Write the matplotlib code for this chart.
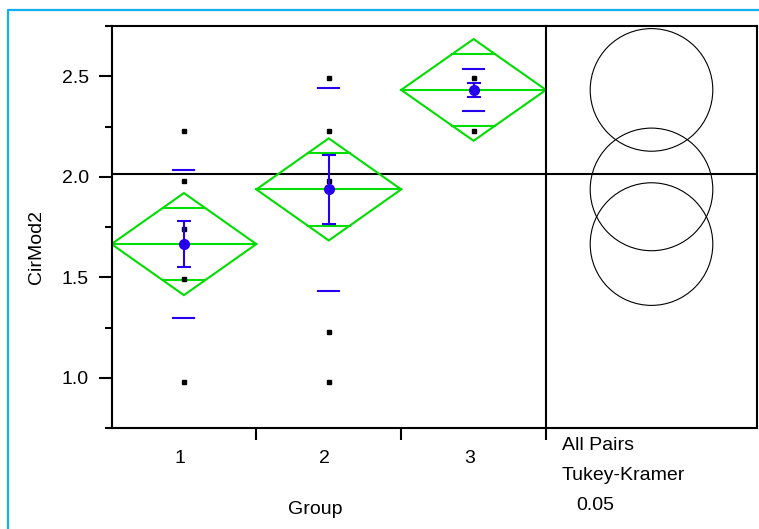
import numpy as np
import matplotlib
matplotlib.use("Agg")
import matplotlib.pyplot as plt
from matplotlib.patches import Polygon, Circle
from matplotlib.lines import Line2D
import matplotlib.transforms as mtransforms

plt.rcParams['font.family'] = ['Liberation Sans', 'DejaVu Sans']

# --- data ---
groups = ['1', '2', '3']
g1_points = [2.23, 1.98, 1.74, 1.49, 0.98]
g2_points = [2.49, 2.23, 1.98, 1.23, 0.98]
g3_points = [2.49, 2.23]
group_means = [1.665, 1.937, 2.432]
ci_half = [0.254, 0.254, 0.253]       # 95% diamond half height
std_err = [0.116, 0.170, 0.033]
std_dev = [0.370, 0.507, 0.105]
grand_mean = 2.012
circle_radius = [0.305, 0.305, 0.305]

points = [g1_points, g2_points, g3_points]

GREEN = '#00dd00'
BLUE = '#2400ee'
FS = 14
W, H = 759, 529

def fx(x):
    return x / W

def fy(y):
    return 1 - y / H

fig = plt.figure(figsize=(W / 100, H / 100), dpi=100)

# comparison circle panel first, main plot on top so the divider is not covered
axc = fig.add_axes([fx(546), fy(428), (757 - 546) / W, (428 - 26) / H])
ax = fig.add_axes([fx(111.5), fy(428), (546 - 111.5) / W, (428 - 26) / H])
ax.patch.set_visible(False)

ylo, yhi = 0.75, 2.75
ax.set_xlim(0, len(groups))
ax.set_ylim(ylo, yhi)

for i, (pts, m, ci, se, sd) in enumerate(zip(points, group_means, ci_half, std_err, std_dev)):
    c = i + 0.5
    # means diamond
    ax.add_patch(Polygon([(i, m), (c, m + ci), (i + 1, m), (c, m - ci)],
                         closed=True, fill=False, ec=GREEN, lw=1.5, zorder=2))
    ax.plot([i, i + 1], [m, m], color=GREEN, lw=1.5, zorder=2)
    off = ci / np.sqrt(2)
    hw = 0.5 * (1 - off / ci)
    for s in (1, -1):
        ax.plot([c - hw, c + hw], [m + s * off, m + s * off], color=GREEN, lw=1.5, zorder=2)
    # raw points
    ax.plot([c] * len(pts), pts, 's', color='black', ms=3, zorder=4)
    # mean, std error and std dev
    ax.errorbar(c, m, yerr=se, fmt='o', color=BLUE, ms=7, capsize=5,
                capthick=1.5, elinewidth=1.5, zorder=5)
    for s in (1, -1):
        ax.plot([c - 0.073, c + 0.073], [m + s * sd, m + s * sd], color=BLUE, lw=1.5, zorder=3)

ax.axhline(grand_mean, color='black', lw=1.5, zorder=1)

ax.set_yticks([1.0, 1.5, 2.0, 2.5])
ax.set_yticks(np.arange(0.75, 2.76, 0.5), minor=True)
ax.set_yticklabels(['1.0', '1.5', '2.0', '2.5'])
ax.tick_params(axis='y', which='major', direction='out', length=9.7, width=1.5,
               labelsize=FS, pad=6.5)
ax.tick_params(axis='y', which='minor', direction='out', length=5, width=1.5)

ax.set_xticks([1, 2, 3])
ax.set_xticklabels([])
ax.set_xticks([0.5, 1.5, 2.5], minor=True)
ax.set_xticklabels(groups, minor=True)
ax.tick_params(axis='x', which='major', direction='out', length=8.6, width=1.5)
ax.tick_params(axis='x', which='minor', length=0, labelsize=FS, pad=15.5)
shift = mtransforms.ScaledTranslation(-4 / 100, 0, fig.dpi_scale_trans)
for lab in ax.get_xticklabels(minor=True):
    lab.set_transform(lab.get_transform() + shift)

for sp in ax.spines.values():
    sp.set_linewidth(1.5)

# comparison circles, equal scale in x and y
px_per_unit = (428 - 26) / (yhi - ylo)
xr = (757 - 546) / px_per_unit
axc.set_xlim(0, xr)
axc.set_ylim(ylo, yhi)
for m, r in zip(group_means, circle_radius):
    axc.add_patch(Circle((xr / 2, m), r, fill=False, ec='black', lw=0.8))
axc.axhline(grand_mean, color='black', lw=1.5)
axc.set_xticks([])
axc.set_yticks([])
axc.spines['left'].set_visible(False)
for sp in axc.spines.values():
    sp.set_linewidth(1.5)

# labels
fig.text(fx(36.3), fy(246.5), 'CirMod2', rotation=90, ha='center', va='center', fontsize=FS)
fig.text(fx(315), fy(513.5), 'Group', ha='center', va='baseline', fontsize=FS)
fig.text(fx(561.7), fy(450), 'All Pairs', ha='left', va='baseline', fontsize=FS)
fig.text(fx(561.7), fy(480), 'Tukey-Kramer', ha='left', va='baseline', fontsize=FS)
fig.text(fx(576.7), fy(510), '0.05', ha='left', va='baseline', fontsize=FS)

# blue frame (left and top edges visible)
fig.add_artist(Line2D([fx(7.5), fx(7.5), 1.0], [0.0, fy(9.5), fy(9.5)],
                      transform=fig.transFigure, color='#10b0f0', lw=1.6))

fig.savefig('out.png', dpi=100)
